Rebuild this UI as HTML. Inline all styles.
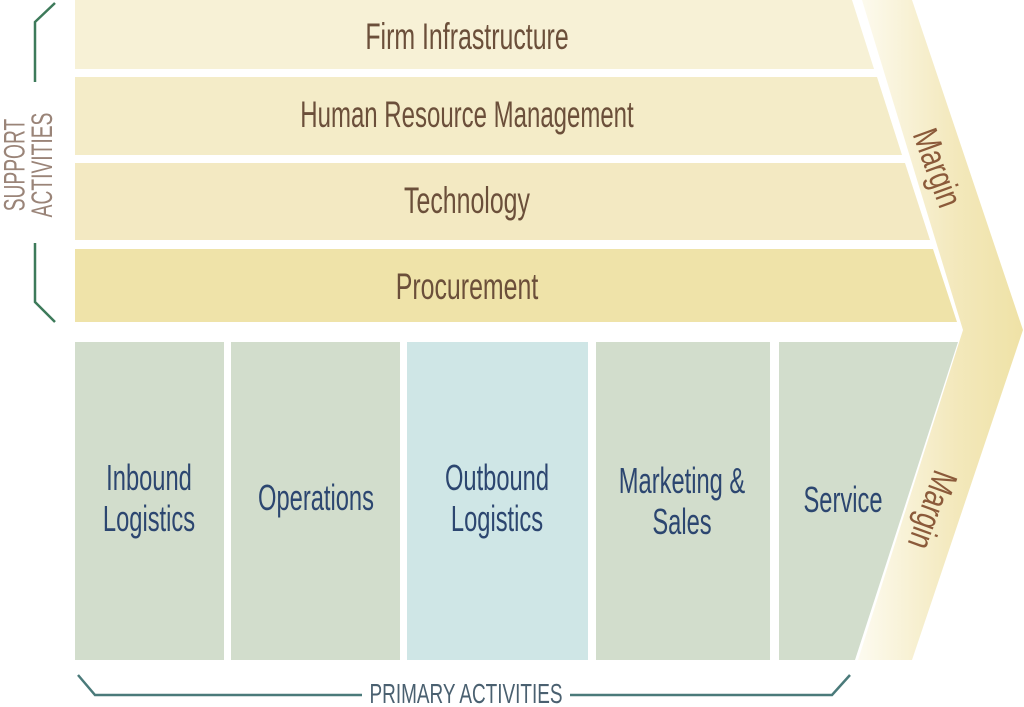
<!DOCTYPE html>
<html><head><meta charset="utf-8"><style>
html,body{margin:0;padding:0;background:#fff;}
svg{display:block;}
text{font-family:"Liberation Sans Narrow","Liberation Sans",sans-serif;}
</style></head><body>
<svg width="1024" height="707" viewBox="0 0 1024 707" xmlns="http://www.w3.org/2000/svg">
<defs>
<linearGradient id="mg" x1="0" y1="0" x2="1" y2="0">
<stop offset="0" stop-color="#fdfbf0"/><stop offset="0.6" stop-color="#f3e8bb"/><stop offset="1" stop-color="#efe2a6"/>
</linearGradient>
</defs>
<polygon points="862,0 912,0 1023,330 912,660 858,660 963,330" fill="url(#mg)"/>
<polygon points="75,0 852,0 874,69 75,69" fill="#f7f1d6"/>
<polygon points="75,77 877,77 902,155 75,155" fill="#f4ecc8"/>
<polygon points="75,163 905,163 930,240 75,240" fill="#f3e9c2"/>
<polygon points="75,249 933,249 957,322 75,322" fill="#efe3a9"/>
<rect x="75" y="342" width="149" height="318" fill="#d2ddcc"/>
<rect x="231" y="342" width="169" height="318" fill="#d2ddcc"/>
<rect x="407" y="342" width="181" height="318" fill="#cfe6e6"/>
<rect x="596" y="342" width="174" height="318" fill="#d2ddcc"/>
<polygon points="779,342 958,342 855,660 779,660" fill="#d2ddcc"/>
<g fill="#6b4f3a" font-size="30" text-anchor="middle">
<text transform="translate(467,49) scale(0.83,1.22)">Firm Infrastructure</text>
<text transform="translate(467,127) scale(0.8,1.22)">Human Resource Management</text>
<text transform="translate(467,213) scale(0.83,1.22)">Technology</text>
<text transform="translate(467,299) scale(0.83,1.22)">Procurement</text>
</g>
<g fill="#2c4670" font-size="30" text-anchor="middle">
<text transform="translate(149,490) scale(0.79,1.2)">Inbound</text>
<text transform="translate(149,531) scale(0.79,1.2)">Logistics</text>
<text transform="translate(316,510) scale(0.79,1.2)">Operations</text>
<text transform="translate(497,490) scale(0.79,1.2)">Outbound</text>
<text transform="translate(497,531) scale(0.79,1.2)">Logistics</text>
<text transform="translate(682,493) scale(0.79,1.2)">Marketing &amp;</text>
<text transform="translate(682,534) scale(0.79,1.2)">Sales</text>
<text transform="translate(843,512) scale(0.79,1.2)">Service</text>
</g>
<g fill="#8b5a3a" font-size="31" text-anchor="middle">
<text transform="translate(937,168) rotate(70) scale(0.85,1.15) translate(0,10)">Margin</text>
<text transform="translate(932,510) rotate(110) scale(0.85,1.15) translate(0,10)">Margin</text>
</g>
<g fill="none" stroke="#3d7a5a" stroke-width="2.5">
<polyline points="55,3 35,22 35,82"/>
<polyline points="35,243 35,302 55,322"/>
</g>
<g fill="#9a8478" font-size="26" text-anchor="middle">
<text transform="translate(30,165) rotate(-90) scale(0.74,1.15) translate(0,-5)">SUPPORT</text>
<text transform="translate(30,165) rotate(-90) scale(0.74,1.15) translate(0,19)">ACTIVITIES</text>
</g>
<g fill="none" stroke="#4a7a7a" stroke-width="2.5">
<polyline points="78,675 95,695 362,695"/>
<polyline points="570,695 832,695 850,675"/>
</g>
<text transform="translate(466,703) scale(0.79,1.15)" fill="#4a6070" font-size="24" text-anchor="middle">PRIMARY ACTIVITIES</text>
</svg>
</body></html>
